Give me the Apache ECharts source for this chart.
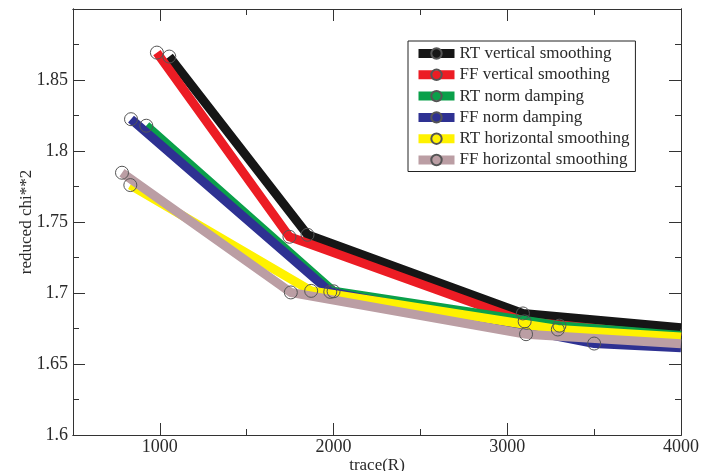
<!DOCTYPE html>
<html>
<head>
<meta charset="utf-8">
<script src="https://cdn.jsdelivr.net/npm/echarts@6/dist/echarts.min.js"></script>
<style>
  html, body { margin: 0; padding: 0; background: #fff; }
  #chart { width: 702px; height: 471px; }
</style>
</head>
<body>
<div id="chart"></div>
<script>
// values, one x/y pair of arrays per run
const rtVertX = [1054, 1850, 3090, 4000]
const rtVertY = [1.8665, 1.741, 1.6856, 1.6755]
const ffVertX = [983, 1746, 3100, 4000]
const ffVertY = [1.8693, 1.7396, 1.680, 1.669]
const rtNormX = [922, 2000, 3300, 4000]
const rtNormY = [1.8178, 1.7012, 1.677, 1.670]
const ffNormX = [834, 1981, 3500, 4000]
const ffNormY = [1.8224, 1.7008, 1.6644, 1.6615]
const rtHorX = [830, 1871, 3291, 4000]
const rtHorY = [1.776, 1.7015, 1.6743, 1.669]
const ffHorX = [782, 1754, 3108, 4000]
const ffHorY = [1.7847, 1.7004, 1.671, 1.6643]

const seriesNames = [
  'RT vertical smoothing',
  'FF vertical smoothing',
  'RT norm damping',
  'FF norm damping',
  'RT horizontal smoothing',
  'FF horizontal smoothing'
]

const xMajor = [1000, 2000, 3000, 4000]
const xMinor = [1500, 2500, 3500]
const yMajor = [1.6, 1.65, 1.7, 1.75, 1.8, 1.85, 1.9]
const yMinor = [1.625, 1.675, 1.725, 1.775, 1.825, 1.875]
const yLabels = [1.6, 1.65, 1.7, 1.75, 1.8, 1.85]

const colors = ['#161616', '#ec1c24', '#0aa04a', '#2e3192', '#fff200', '#bb9ea4']
const font = 'Liberation Serif, Times New Roman, serif'
const ink = '#2a2a2a'

const runs = [
  [rtVertX, rtVertY], [ffVertX, ffVertY], [rtNormX, rtNormY],
  [ffNormX, ffNormY], [rtHorX, rtHorY], [ffHorX, ffHorY]
]

const pair = (xs, ys) => xs.map((x, i) => [x, ys[i]])

const xAxisOf = (position, ticks, len, withLabels) => ({
  type: 'value',
  position: position,
  min: 500,
  max: 4000,
  splitLine: { show: false },
  axisLine: { show: true, onZero: false, lineStyle: { color: '#333', width: 1 } },
  axisTick: { show: true, inside: true, length: len, customValues: ticks, lineStyle: { color: '#333' } },
  axisLabel: withLabels
    ? { show: true, customValues: xMajor, formatter: v => String(v), margin: 3, color: ink, fontFamily: font, fontSize: 18 }
    : { show: false }
})

const yAxisOf = (position, ticks, len, withLabels) => ({
  type: 'value',
  position: position,
  min: 1.6,
  max: 1.9,
  splitLine: { show: false },
  axisLine: { show: true, onZero: false, lineStyle: { color: '#333', width: 1 } },
  axisTick: { show: true, inside: true, length: len, customValues: ticks, lineStyle: { color: '#333' } },
  axisLabel: withLabels
    ? { show: true, customValues: yLabels, formatter: v => String(v), margin: 5, color: ink, fontFamily: font, fontSize: 18 }
    : { show: false }
})

const chart = echarts.init(document.getElementById('chart'))

const xAxes = [
  xAxisOf('bottom', xMajor, 12, true),
  xAxisOf('bottom', xMinor, 6, false),
  xAxisOf('top', xMajor, 12, false),
  xAxisOf('top', xMinor, 6, false)
]
xAxes[0].name = 'trace(R)'
xAxes[0].nameLocation = 'middle'
xAxes[0].nameGap = 22
xAxes[0].nameMoveOverlap = false
xAxes[0].nameTextStyle = { color: ink, fontFamily: font, fontSize: 17 }

const yAxes = [
  yAxisOf('left', yMajor, 12, true),
  yAxisOf('left', yMinor, 6, false),
  yAxisOf('right', yMajor, 12, false),
  yAxisOf('right', yMinor, 6, false)
]
yAxes[0].name = 'reduced chi**2'
yAxes[0].nameLocation = 'middle'
yAxes[0].nameGap = 38
yAxes[0].nameMoveOverlap = false
yAxes[0].nameTextStyle = { color: ink, fontFamily: font, fontSize: 17 }

const option = {
  backgroundColor: '#fff',
  animation: false,
  grid: { left: 73, right: 21, top: 9, bottom: 36, outerBoundsMode: 'none' },
  legend: {
    left: 408,
    top: 41,
    orient: 'vertical',
    backgroundColor: '#fff',
    borderColor: '#222',
    borderWidth: 1,
    borderRadius: 0,
    padding: [4, 6, 3, 6],
    itemWidth: 36,
    itemHeight: 13,
    itemGap: 4.3,
    lineStyle: { width: 9 },
    textStyle: { color: ink, fontFamily: font, fontSize: 17 },
    data: seriesNames
  },
  xAxis: xAxes,
  yAxis: yAxes,
  series: runs.map((r, i) => ({
    name: seriesNames[i],
    type: 'line',
    data: pair(r[0], r[1]),
    symbol: 'circle',
    // no marker where the line leaves the frame
    symbolSize: v => (v[0] >= 4000 ? 0 : 13),
    lineStyle: { color: colors[i], width: 9, join: 'miter' },
    itemStyle: { color: 'rgba(0,0,0,0)', borderColor: '#555', borderWidth: 1 },
    emphasis: { disabled: true }
  }))
}

chart.setOption(option)
</script>
</body>
</html>
